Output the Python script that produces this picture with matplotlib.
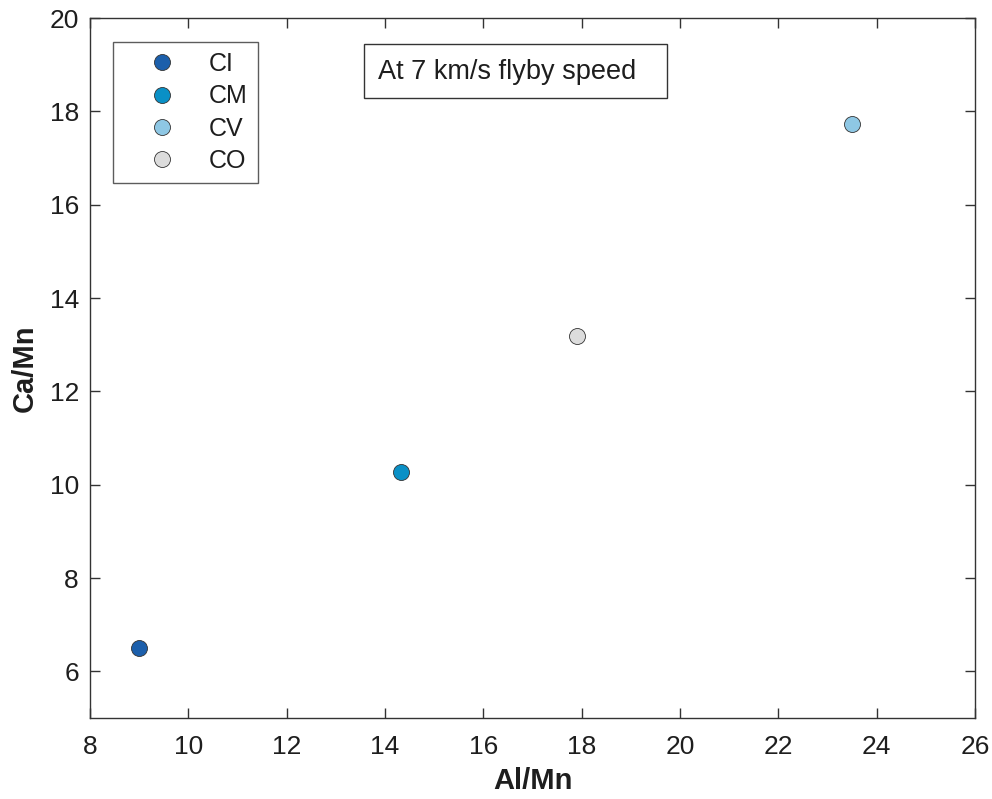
import matplotlib.pyplot as plt
from matplotlib.patches import Rectangle

plt.rcParams['font.family'] = ['Liberation Sans', 'DejaVu Sans']

groups = ['CI', 'CM', 'CV', 'CO']
al_mn = [9.0, 14.32, 23.5, 17.9]
ca_mn = [6.5, 10.27, 17.73, 13.19]
colors = ['#1c5fab', '#0a90c6', '#8ec7e4', '#dcdcdc']

W, H = 992, 799
fig = plt.figure(figsize=(W / 100, H / 100), dpi=100)
ax = fig.add_axes([90 / W, 81 / H, 885 / W, 700 / H])

for name, x, y, c in zip(groups, al_mn, ca_mn, colors):
    ax.plot(x, y, 'o', ms=11.5, mfc=c, mec='#333333', mew=0.6, label=name)

ax.set_xlim(8, 26)
ax.set_ylim(5, 20)
ax.set_xticks(range(8, 27, 2))
ax.set_yticks(range(6, 21, 2))
ax.tick_params(direction='in', top=True, right=True, length=7, width=1,
               labelsize=19, color='#333333', labelcolor='#1e1e1e')
ax.tick_params(axis='x', pad=12)
ax.tick_params(axis='y', pad=8)
for sp in ax.spines.values():
    sp.set_color('#333333')
    sp.set_linewidth(1)

ax.set_xlabel('Al/Mn', fontsize=21, fontweight='bold', color='#1e1e1e', labelpad=6)
ax.set_ylabel('Ca/Mn', fontsize=21, fontweight='bold', color='#1e1e1e', labelpad=8)

# legend box pinned to the upper-left corner of the axes
leg = ax.legend(loc='upper left', bbox_to_anchor=(23 / 885, 676 / 700), borderaxespad=0,
                fontsize=18, frameon=True, fancybox=False, edgecolor='#333333',
                handlelength=3.1, handletextpad=0.35, borderpad=0.4, labelspacing=0.33)
leg.get_frame().set_linewidth(1)
for t in leg.get_texts():
    t.set_color('#1e1e1e')

# annotation box
ax.add_patch(Rectangle((274 / 885, 620 / 700), 303 / 885, 54 / 700, transform=ax.transAxes,
                       fc='white', ec='#333333', lw=1, zorder=5))
ax.text(288 / 885, 646 / 700, 'At 7 km/s flyby speed', transform=ax.transAxes,
        fontsize=19.5, color='#1e1e1e', va='center', ha='left', zorder=6)

fig.savefig('out.png', dpi=100)
